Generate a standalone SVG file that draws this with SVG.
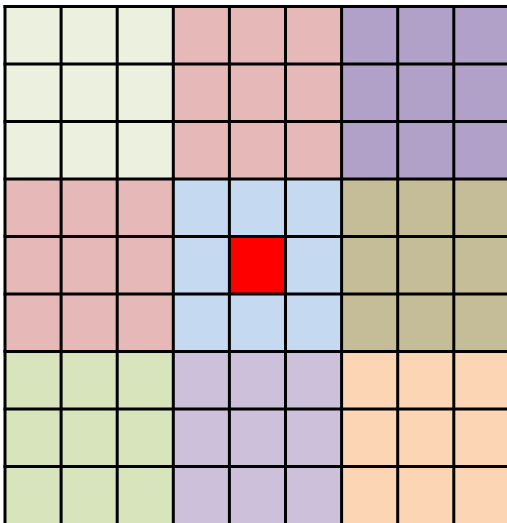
<svg xmlns="http://www.w3.org/2000/svg" width="507" height="523" viewBox="0 0 507 523">
<style>
.g{stroke:#000;stroke-width:3;fill:none}
</style>
<rect width="507" height="523" fill="#fff"/>
<g id="block-tl"><rect x="5" y="6.5" width="168.3" height="172.5" fill="#EBF1DE"/></g>
<g id="block-tc"><rect x="173.3" y="6.5" width="168.3" height="172.5" fill="#E6B8B7"/></g>
<g id="block-tr"><rect x="341.6" y="6.5" width="170" height="172.5" fill="#B1A0C7"/></g>
<g id="block-ml"><rect x="5" y="179" width="168.3" height="172.5" fill="#E6B8B7"/></g>
<g id="block-mc"><rect x="173.3" y="179" width="168.3" height="172.5" fill="#C5D9F1"/></g>
<g id="block-mr"><rect x="341.6" y="179" width="170" height="172.5" fill="#C4BD97"/></g>
<g id="block-bl"><rect x="5" y="351.5" width="168.3" height="175" fill="#D8E4BC"/></g>
<g id="block-bc"><rect x="173.3" y="351.5" width="168.3" height="175" fill="#CCC0DA"/></g>
<g id="block-br"><rect x="341.6" y="351.5" width="170" height="175" fill="#FCD5B4"/></g>
<g id="center"><rect x="229.4" y="236.5" width="56.1" height="57.5" fill="#FF0000"/></g>
<g id="grid" class="g">
<path d="M5 5V525M61.1 5V525M117.2 5V525M173.3 5V525M229.4 5V525M285.5 5V525M341.6 5V525M397.7 5V525M453.8 5V525"/>
<path d="M3.5 6.5H510M3.5 64H510M3.5 121.5H510M3.5 179H510M3.5 236.5H510M3.5 294H510M3.5 351.5H510M3.5 409H510M3.5 466.5H510"/>
</g>
</svg>
